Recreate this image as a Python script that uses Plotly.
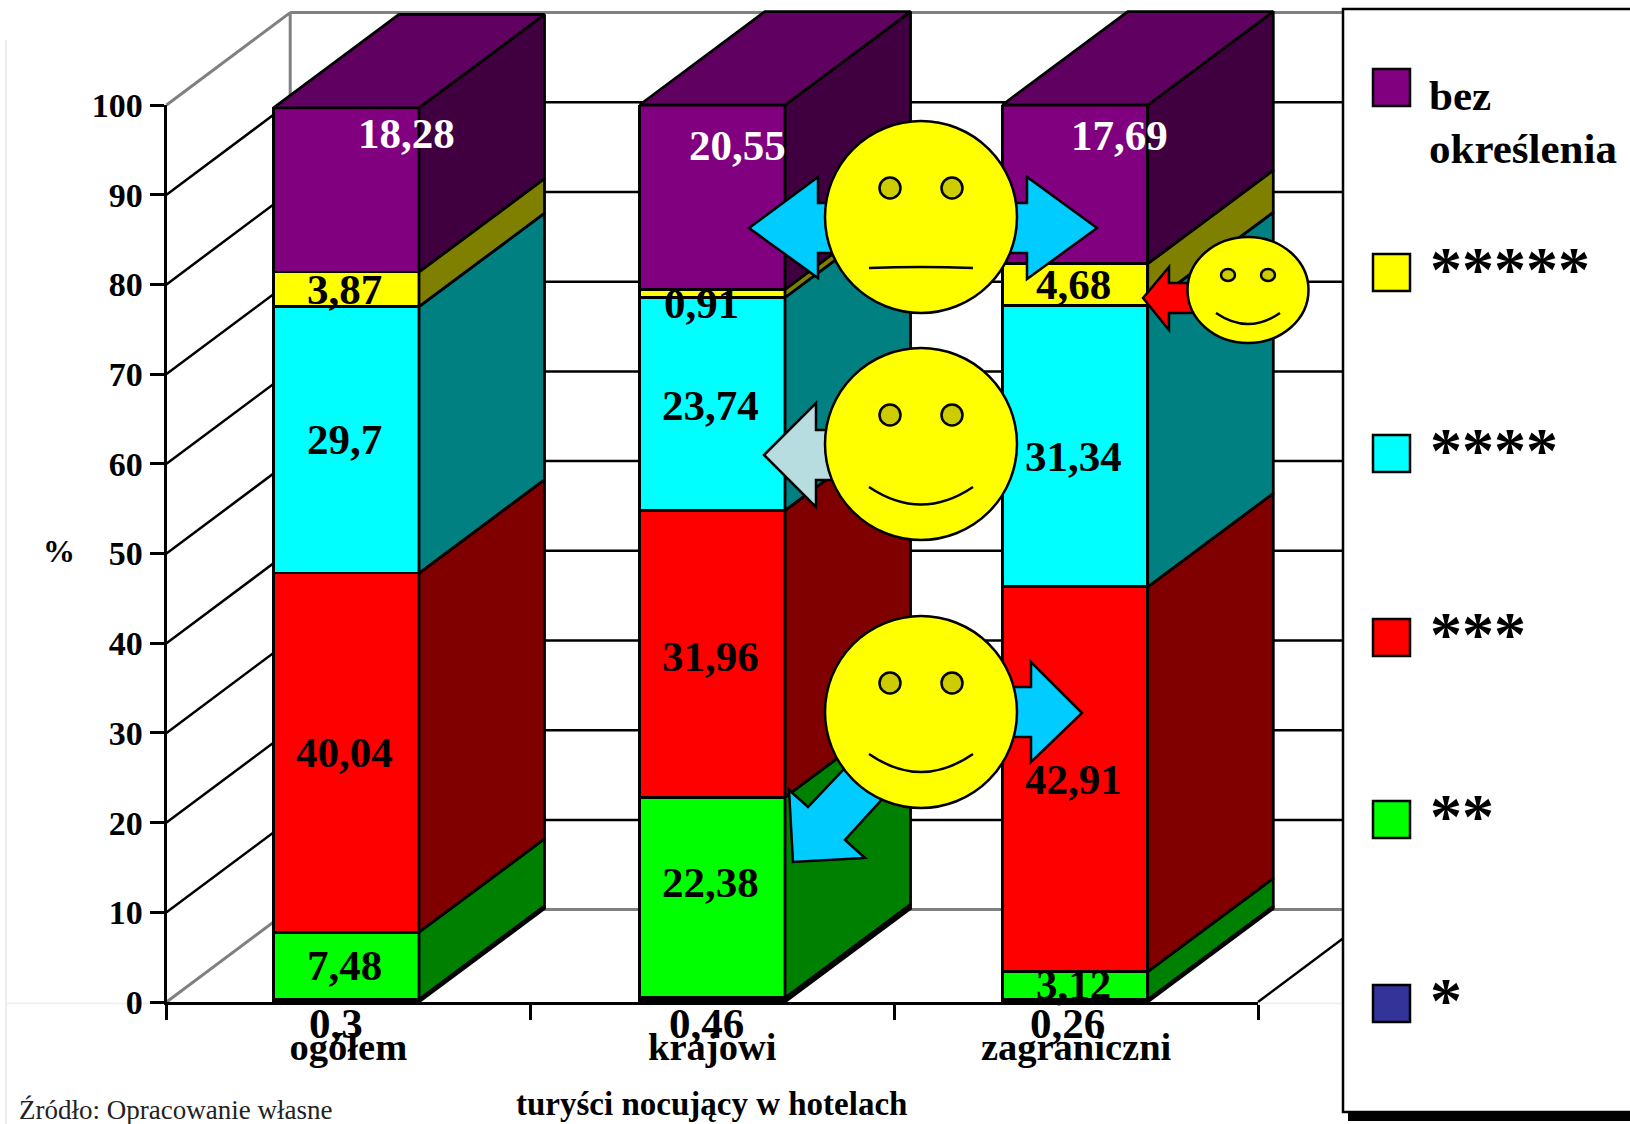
import plotly.graph_objects as go

categories = ["ogółem", "krajowi", "zagraniczni"]
s1 = [0.3, 0.46, 0.26]
s2 = [7.48, 22.38, 3.12]
s3 = [40.04, 31.96, 42.91]
s4 = [29.7, 23.74, 31.34]
s5 = [3.87, 0.91, 4.68]
s6 = [18.28, 20.55, 17.69]
series_names = ["*", "**", "***", "****", "*****", "bez określenia"]
y_ticks = [0, 10, 20, 30, 40, 50, 60, 70, 80, 90, 100]
x_title = "turyści nocujący w hotelach"
source_text = "Źródło: Opracowanie własne"

all_series = [s1, s2, s3, s4, s5, s6]
front = ["#333399", "#00FF00", "#FF0000", "#00FFFF", "#FFFF00", "#800080"]
bar_fill = ["#000000"] + front[1:]
side = ["#000000", "#008000", "#800000", "#008080", "#808000", "#400040"]
top_col = "#600060"
W, H = 1630, 1124
FONT = "Liberation Serif"
DX, DY, BW = 0.345, 10.42, 0.4
WALL_DX, WALL_DY = 0.34, 10.3
X_LEFT, X_RIGHT, Y0, Y100 = 166.5, 1258, 1002, 105
bar_x = [-0.006, 1, 1.997]

# label nudges (category units, % units) relative to the segment midpoint
nudge = {
    (5, 0): (0.16, 6.3), (4, 0): (-0.01, 0), (3, 0): (-0.01, 0), (2, 0): (-0.01, 0), (1, 0): (-0.01, 0),
    (5, 1): (0.07, 5.8), (4, 1): (-0.03, -1.1), (3, 1): (-0.006, -0.2), (2, 1): (-0.006, -0.35), (1, 1): (-0.006, 1.7),
    (5, 2): (0.12, 5.4), (4, 2): (-0.008, 0), (3, 2): (-0.008, -1.1), (2, 2): (-0.008, 0), (1, 2): (-0.008, 0.1),
}
zero_label_dx = [-0.035, -0.015, -0.023]

# the hidden helper axes cover the whole page with the same scale as the visible axes
x_unit = (X_RIGHT - X_LEFT) / 3
y_unit = (Y0 - Y100) / 100
full_x = [-0.5 - X_LEFT / x_unit, 2.5 + (W - X_RIGHT) / x_unit]
full_y = [-(H - Y0) / y_unit, 100 + Y100 / y_unit]

fig = go.Figure()

# walls: lowest subplot
gx, gy = [], []
for v in y_ticks[1:-1]:
    gx += [-0.5, -0.5 + WALL_DX, 2.5 + WALL_DX, None]
    gy += [v, v + WALL_DY, v + WALL_DY, None]
gx += [2.5, 2.5 + WALL_DX]
gy += [0, WALL_DY]
fig.add_trace(go.Scatter(x=gx, y=gy, mode="lines", hoverinfo="skip", xaxis="x", yaxis="y",
                         line=dict(color="black", width=2.5), showlegend=False))
wx = [-0.5, -0.5 + WALL_DX, 2.5 + WALL_DX, None, -0.5, -0.5 + WALL_DX, -0.5 + WALL_DX, None, -0.5 + WALL_DX, 2.5 + WALL_DX]
wy = [0, WALL_DY, WALL_DY, None, 100, 100 + WALL_DY, WALL_DY, None, 100 + WALL_DY, 100 + WALL_DY]
fig.add_trace(go.Scatter(x=wx, y=wy, mode="lines", hoverinfo="skip", xaxis="x", yaxis="y",
                         line=dict(color="#808080", width=3), showlegend=False))

# stacked bars on the visible axes
for name, vals, col in zip(series_names, all_series, bar_fill):
    fig.add_trace(go.Bar(x=bar_x, y=vals, width=BW, name=name, xaxis="x2", yaxis="y2",
                         marker=dict(color=col, line=dict(color="black", width=2.8)),
                         showlegend=False))

# side and top faces computed from the stacked values
base = [0, 0, 0]
cum = []
for k, vals in enumerate(all_series):
    px_, py_ = [], []
    for i, v in enumerate(vals):
        r = bar_x[i] + BW / 2
        y0, y1 = base[i], base[i] + v
        px_ += [r, r + DX, r + DX, r, r, None]
        py_ += [y0, y0 + DY, y1 + DY, y1, y0, None]
    fig.add_trace(go.Scatter(x=px_, y=py_, xaxis="x3", yaxis="y3", mode="lines", fill="toself",
                             fillcolor=side[k], hoverinfo="skip",
                             line=dict(color="black", width=2.8), showlegend=False))
    cum.append(list(base))
    base = [b + v for b, v in zip(base, vals)]
tx, ty = [], []
for i, t in enumerate(base):
    l, r = bar_x[i] - BW / 2, bar_x[i] + BW / 2
    tx += [l, l + DX, r + DX, r, l, None]
    ty += [t, t + DY, t + DY, t, t, None]
fig.add_trace(go.Scatter(x=tx, y=ty, xaxis="x3", yaxis="y3", mode="lines", fill="toself",
                         fillcolor=top_col, hoverinfo="skip",
                         line=dict(color="black", width=2.8), showlegend=False))

anns = []
for k in range(1, 6):
    for i, v in enumerate(all_series[k]):
        ox, oy = nudge.get((k, i), (0, 0))
        anns.append(dict(x=i + ox, y=cum[k][i] + v / 2 + oy, xref="x3", yref="y3", showarrow=False,
                         text=str(v).replace(".", ","),
                         font=dict(family=FONT, size=43, weight="bold", color="white" if k == 5 else "black"),
                         xanchor="center", yanchor="middle"))
for i, v in enumerate(s1):
    anns.append(dict(x=i + zero_label_dx[i], y=-2.45, xref="x3", yref="y3", showarrow=False,
                     text=str(v).replace(".", ","), font=dict(family=FONT, size=43, weight="bold", color="black"),
                     xanchor="center", yanchor="middle"))


def X(p):
    return p / W


def Y(p):
    return 1 - p / H


def poly(pts, fill, layer="above", lw=2.5):
    d = "M " + " L ".join(f"{X(a):.5f} {Y(b):.5f}" for a, b in pts) + " Z"
    return dict(type="path", xref="paper", yref="paper", path=d, fillcolor=fill, layer=layer,
                line=dict(color="black", width=lw))


def oval(cx, cy, rx, ry, fill, layer="above", lw=2.5, color="black"):
    return dict(type="circle", xref="paper", yref="paper", x0=X(cx - rx), x1=X(cx + rx),
                y0=Y(cy - ry), y1=Y(cy + ry), fillcolor=fill, layer=layer,
                line=dict(color=color, width=lw))


def mouth(x0, y0, cy, x1):
    d = f"M {X(x0):.5f} {Y(y0):.5f} Q {X((x0 + x1) / 2):.5f} {Y(cy):.5f} {X(x1):.5f} {Y(y0):.5f}"
    return dict(type="path", xref="paper", yref="paper", path=d, layer="above",
                line=dict(color="black", width=2.5))


def smiley(cx, cy, r_x, r_y, ex, ey, erx, ery, mx, my, mc):
    return [oval(cx, cy, r_x, r_y, "#FFFF00"),
            oval(cx - ex, cy + ey, erx, ery, "#CCCC00"),
            oval(cx + ex, cy + ey, erx, ery, "#CCCC00"),
            mouth(cx - mx, cy + my, cy + mc, cx + mx)]


shapes = [
    dict(type="line", xref="paper", yref="paper", x0=X(6), x1=X(6), y0=Y(40), y1=Y(1124), layer="below",
         line=dict(color="#E6E6E6", width=1.5)),
    dict(type="line", xref="paper", yref="paper", x0=X(6), x1=X(1343), y0=Y(1003.5), y1=Y(1003.5), layer="below",
         line=dict(color="#EDEDED", width=1.5)),
]
BLUE = "#00CCFF"
# arrows beneath the faces
shapes += [
    poly([(749, 228), (818, 177), (818, 203), (900, 203), (900, 253), (818, 253), (818, 278)], BLUE),
    poly([(1097, 228), (1027, 177), (1027, 203), (960, 203), (960, 253), (1027, 253), (1027, 279)], BLUE),
    poly([(764, 455), (816, 403), (816, 430), (900, 430), (900, 480), (816, 480), (816, 507)], "#B8DDE1"),
    poly([(1082, 713), (1031, 662), (1031, 687), (960, 687), (960, 737), (1031, 737), (1031, 762)], BLUE),
    poly([(789, 790), (808, 807), (860, 752), (895, 785), (845, 840), (865, 858), (793, 862)], BLUE),
    poly([(1143, 298), (1169, 267), (1169, 283), (1220, 283), (1220, 313), (1169, 313), (1169, 330)], "#FF0000"),
]
shapes += smiley(921, 217, 96, 96, 31, -29, 10.5, 10.5, 52, 51, 49)
shapes += smiley(921, 444, 96, 96, 31, -29, 10.5, 10.5, 52, 43, 78)
shapes += smiley(921, 712, 96, 96, 31, -29, 10.5, 10.5, 52, 42, 78)
shapes += smiley(1248, 290, 60.5, 53, 20, -15, 7, 6, 32, 23, 45)

# legend panel
shapes += [
    dict(type="rect", xref="paper", yref="paper", x0=X(1348), x1=X(1640), y0=Y(1112), y1=Y(1121),
         fillcolor="black", layer="above", line=dict(width=0)),
    dict(type="rect", xref="paper", yref="paper", x0=X(1343), x1=X(1640), y0=Y(9), y1=Y(1112),
         fillcolor="white", layer="above", line=dict(color="black", width=2.5)),
]
legend_top = [985, 801, 619, 435, 254, 69]
star_size = 64
for k, t in enumerate(legend_top):
    shapes.append(dict(type="rect", xref="paper", yref="paper", x0=X(1373), x1=X(1410), y0=Y(t), y1=Y(t + 37),
                       fillcolor=front[k], layer="above", line=dict(color="black", width=2.5)))
    if k == 5:
        first, second = series_names[k].split(" ")
        for txt, yy in ((first, 95), (second, 148)):
            anns.append(dict(x=X(1427), y=Y(yy), xref="paper", yref="paper", showarrow=False, text=txt,
                             xanchor="left", yanchor="middle",
                             font=dict(family=FONT, size=43, weight="bold", color="black")))
    else:
        anns.append(dict(x=X(1428), y=Y(t + 15), xref="paper", yref="paper", showarrow=False, text=series_names[k],
                         xanchor="left", yanchor="middle",
                         font=dict(family=FONT, size=star_size, weight="bold", color="black")))

anns.append(dict(x=X(59), y=Y(551), xref="paper", yref="paper", showarrow=False, text="%", xanchor="center",
                 font=dict(family=FONT, size=32, weight="bold", color="black")))
anns.append(dict(x=X(17), y=Y(1110), xref="paper", yref="paper", showarrow=False, text=source_text,
                 xanchor="left", yanchor="middle", font=dict(family=FONT, size=27, color="#222222")))
anns.append(dict(x=X((X_LEFT + X_RIGHT) / 2 - 1), y=Y(1104), xref="paper", yref="paper", showarrow=False, text=x_title,
                 xanchor="center", yanchor="middle", font=dict(family=FONT, size=33, weight="bold", color="black")))

bold = dict(family=FONT, color="black", weight="bold")
hidden_full = dict(domain=[0, 1], visible=False, fixedrange=True, automargin=False)
fig.update_layout(
    width=W, height=H, margin=dict(l=0, r=0, t=0, b=0, pad=0, autoexpand=False), paper_bgcolor="white",
    plot_bgcolor="rgba(0,0,0,0)",
    barmode="stack", showlegend=False, shapes=shapes, annotations=anns,
    font=dict(family=FONT, color="black"),
    xaxis=dict(range=full_x, anchor="y", **hidden_full),
    yaxis=dict(range=full_y, anchor="x", **hidden_full),
    xaxis3=dict(range=full_x, anchor="y3", **hidden_full),
    yaxis3=dict(range=full_y, anchor="x3", **hidden_full),
    xaxis2=dict(domain=[X(X_LEFT), X(X_RIGHT)], range=[-0.5, 2.5], anchor="y2", automargin=False,
                tickmode="array", tickvals=[0, 1, 2],
                ticktext=categories, ticks="outside", ticklen=1, tickcolor="white", tickwidth=1,
                ticklabelstandoff=8, tickfont=dict(size=38.5, **bold), showgrid=False, zeroline=False,
                showline=True, linecolor="black", linewidth=3,
                minor=dict(tickmode="array", tickvals=[-0.5, 0.5, 1.5, 2.5], ticks="outside", ticklen=15,
                           tickwidth=2.5, tickcolor="black", showgrid=False)),
    yaxis2=dict(domain=[Y(Y0), Y(Y100)], range=[0, 100], anchor="x2", automargin=False,
                tickmode="array", tickvals=y_ticks,
                ticks="outside", ticklen=14, tickwidth=2.5, tickcolor="black", tickfont=dict(size=34, **bold),
                showgrid=False, zeroline=False, showline=True, linecolor="black", linewidth=3),
)
fig.write_html("out.html", config=dict(displayModeBar=False),
               post_script="document.body.style.margin='0';document.documentElement.style.overflow='hidden';")
